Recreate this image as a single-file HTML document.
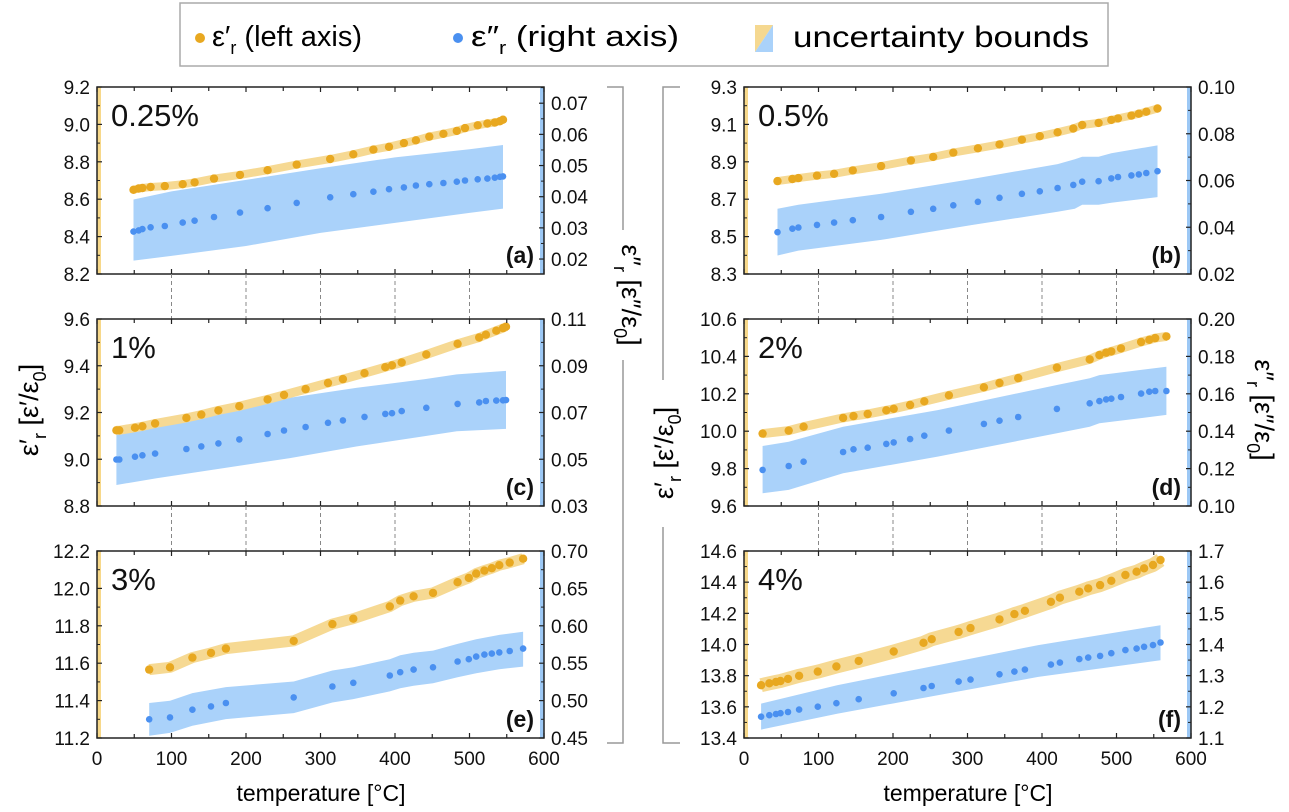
<!DOCTYPE html>
<html><head><meta charset="utf-8">
<style>
html,body{margin:0;padding:0;background:#fff;}
svg{display:block;font-family:"Liberation Sans",sans-serif;}
</style></head>
<body>
<svg id="fig" width="1289" height="812" viewBox="0 0 1289 812" xmlns="http://www.w3.org/2000/svg">
  <g>
    <rect x="180" y="3" width="928" height="63" fill="#fff" stroke="#aaa" stroke-width="1.5"/>
    <circle cx="200" cy="38" r="5" fill="#e8a820"/>
    <text x="212" y="46" font-size="29" textLength="150" lengthAdjust="spacingAndGlyphs">ε′<tspan font-size="18" dy="8">r</tspan><tspan dy="-8"> (left axis)</tspan></text>
    <circle cx="458" cy="38" r="5" fill="#4a90f0"/>
    <text x="471" y="46" font-size="29" textLength="208" lengthAdjust="spacingAndGlyphs">ε″<tspan font-size="18" dy="8">r</tspan><tspan dy="-8"> (right axis)</tspan></text>
    <polygon points="755,25 773,25 755,52" fill="#f5d890"/>
    <polygon points="773,25 773,52 755,52" fill="#aad2fa"/>
    <text x="793" y="47" font-size="30" textLength="296" lengthAdjust="spacingAndGlyphs">uncertainty bounds</text>
  </g>
  <g id="panels"></g>
  <text x="321" y="801" font-size="23" text-anchor="middle">temperature [°C]</text>
  <text x="968" y="801" font-size="23" text-anchor="middle">temperature [°C]</text>
  <text transform="translate(38,410) rotate(-90)" font-size="27" text-anchor="middle">ε′<tspan font-size="18" dy="8">r</tspan><tspan dy="-8"> [ε′/ε</tspan><tspan font-size="18" dy="8">0</tspan><tspan dy="-8">]</tspan></text>
  <text transform="translate(1255,410) rotate(90)" font-size="27" text-anchor="middle">ε″<tspan font-size="18" dy="8">r</tspan><tspan dy="-8"> [ε″/ε</tspan><tspan font-size="18" dy="8">0</tspan><tspan dy="-8">]</tspan></text>
  <g stroke="#999" stroke-width="1.5" fill="none">
    <polyline points="607,87 623,87 623,230"/>
    <polyline points="623,360 623,743 607,743"/>
  </g>
  <text transform="translate(622,295) rotate(90)" font-size="27" text-anchor="middle">ε″<tspan font-size="18" dy="8">r</tspan><tspan dy="-8"> [ε″/ε</tspan><tspan font-size="18" dy="8">0</tspan><tspan dy="-8">]</tspan></text>
  <g stroke="#999" stroke-width="1.5" fill="none">
    <polyline points="680,87 663,87 663,380"/>
    <polyline points="663,527 663,743 680,743"/>
  </g>
  <text transform="translate(673,453) rotate(-90)" font-size="27" text-anchor="middle">ε′<tspan font-size="18" dy="8">r</tspan><tspan dy="-8"> [ε′/ε</tspan><tspan font-size="18" dy="8">0</tspan><tspan dy="-8">]</tspan></text>
</svg>
<script>
// ---- data (a) 0.25% ----
const tempA=[49,56,61,72,91,115,131,157,192,229,268,313,344,371,392,412,428,446,465,483,494,511,524,534,541,545];
const realA=[8.65,8.657,8.66,8.665,8.67,8.68,8.69,8.71,8.73,8.755,8.785,8.815,8.84,8.865,8.88,8.90,8.915,8.935,8.95,8.965,8.98,8.995,9.005,9.01,9.017,9.025];
const imagA=[.0288,.0292,.0296,.0302,.0306,.0317,.0323,.0335,.0349,.0363,.038,.0398,.0408,.0416,.0424,.043,.0436,.044,.0444,.0448,.0452,.0456,.0458,.0461,.0464,.0465];
const bandTempA=[49,100,200,300,400,500,545];
const bandUpA=[.0391,.0417,.0454,.0491,.0526,.0552,.0566];
const bandLoA=[.0195,.0210,.0242,.0284,.0316,.0348,.0362];
// ---- data (b) 0.5% ----
const tempB=[45,65,73,98,121,146,184,224,254,281,314,343,373,397,421,442,454,476,493,502,520,530,540,555];
const realB=[8.797,8.808,8.813,8.826,8.836,8.854,8.877,8.907,8.926,8.949,8.972,8.993,9.018,9.037,9.058,9.078,9.097,9.108,9.124,9.132,9.147,9.157,9.168,9.185];
const imagB=[.0379,.0394,.0399,.041,.042,.043,.0444,.0466,.0479,.0494,.0509,.0526,.0543,.0554,.0568,.0581,.0595,.0597,.0609,.0615,.0622,.0626,.0632,.064];
const bandTempB=[45,73,184,305,421,444,454,476,493,555];
const bandUpB=[.0479,.0496,.0543,.0606,.067,.0691,.0702,.0702,.0717,.075];
const bandLoB=[.0279,.03,.0346,.0409,.0466,.0479,.0496,.0496,.0505,.0529];
// ---- data (c) 1% ----
const tempC=[26,30,51,61,78,120,140,163,191,229,251,280,310,330,359,387,396,409,442,484,513,522,536,545,549];
const realC=[9.124,9.124,9.135,9.141,9.153,9.177,9.191,9.209,9.227,9.256,9.275,9.30,9.326,9.343,9.368,9.394,9.402,9.414,9.448,9.494,9.521,9.533,9.55,9.561,9.567];
const imagC=[.0499,.0499,.0511,.0517,.0524,.0544,.0555,.0568,.0585,.0608,.0623,.0638,.0656,.0666,.0681,.0694,.0697,.0706,.072,.0737,.0743,.0749,.0751,.0752,.0753];
const bandTempC=[26,80,170,259,349,439,483,549];
const bandUpC=[.061,.0656,.0713,.0763,.0806,.0842,.0863,.0878];
const bandLoC=[.039,.0419,.0462,.0505,.0555,.0598,.062,.063];
// ---- data (d) 2% ----
const tempD=[25,60,80,133,147,166,191,201,223,242,275,322,343,368,420,464,477,486,493,506,533,544,552,567];
const realD=[9.987,10.003,10.024,10.071,10.081,10.092,10.112,10.12,10.14,10.16,10.192,10.235,10.258,10.284,10.34,10.384,10.407,10.42,10.427,10.443,10.477,10.489,10.498,10.507];
const imagD=[.1193,.1214,.1237,.1289,.1303,.1312,.1332,.134,.1358,.1376,.1403,.1439,.1456,.1476,.1519,.1549,.1561,.157,.1574,.1583,.1601,.1611,.1615,.1615];
const bandTempD=[25,60,133,260,420,464,477,567];
const bandUpD=[.1321,.1344,.1424,.1513,.1647,.1683,.17,.1745];
const bandLoD=[.1068,.1086,.1175,.1264,.1389,.1424,.1442,.1487];
// ---- data (e) 3% ----
const tempE=[70,98,128,153,173,264,316,344,393,407,425,451,484,499,509,520,530,540,554,572];
const realE=[11.566,11.578,11.63,11.655,11.678,11.719,11.809,11.838,11.903,11.935,11.958,11.976,12.033,12.056,12.079,12.095,12.108,12.124,12.138,12.159];
const imagE=[.475,.4775,.4878,.4923,.4968,.5043,.5188,.5238,.5335,.538,.5415,.5445,.5523,.5553,.5588,.5615,.5628,.5645,.5663,.5695];
const bandTempE=[70,98,128,173,264,316,344,393,407,425,451,484,509,540,572];
const bandUpE=[.4968,.4998,.51,.518,.5255,.5403,.5445,.5553,.5605,.564,.5668,.5758,.582,.5878,.592];
const bandLoE=[.453,.4568,.4665,.4753,.4833,.4975,.502,.5123,.5165,.5198,.5233,.5313,.5365,.542,.5455];
// ---- data (f) 4% ----
const tempF=[23,34,43,49,59,74,99,124,154,201,241,252,288,304,343,363,377,412,424,450,462,478,493,512,527,537,549,559];
const realF=[13.739,13.751,13.76,13.766,13.779,13.799,13.826,13.859,13.895,13.955,14.011,14.034,14.081,14.105,14.161,14.195,14.216,14.274,14.3,14.339,14.36,14.381,14.409,14.446,14.467,14.489,14.51,14.542];
const imagF=[1.1685,1.173,1.177,1.1795,1.1835,1.191,1.2005,1.2115,1.2245,1.2435,1.2605,1.267,1.281,1.2875,1.3045,1.313,1.3195,1.3355,1.342,1.353,1.358,1.3635,1.372,1.382,1.387,1.3925,1.398,1.4065];
const bandTempF=[23,125,260,395,559];
const bandUpF=[1.2105,1.2695,1.3335,1.398,1.462];
const bandLoF=[1.127,1.178,1.237,1.296,1.3495];
// ---- axis tick labels ----
const leftTicksA=["8.2","8.4","8.6","8.8","9.0","9.2"], rightTicksA=["0.02","0.03","0.04","0.05","0.06","0.07"];
const leftTicksB=["8.3","8.5","8.7","8.9","9.1","9.3"], rightTicksB=["0.02","0.04","0.06","0.08","0.10"];
const leftTicksC=["8.8","9.0","9.2","9.4","9.6"], rightTicksC=["0.03","0.05","0.07","0.09","0.11"];
const leftTicksD=["9.6","9.8","10.0","10.2","10.4","10.6"], rightTicksD=["0.10","0.12","0.14","0.16","0.18","0.20"];
const leftTicksE=["11.2","11.4","11.6","11.8","12.0","12.2"], rightTicksE=["0.45","0.50","0.55","0.60","0.65","0.70"];
const leftTicksF=["13.4","13.6","13.8","14.0","14.2","14.4","14.6"], rightTicksF=["1.1","1.2","1.3","1.4","1.5","1.6","1.7"];
const xTicks=["0","100","200","300","400","500","600"];

const NS="http://www.w3.org/2000/svg";
const root=document.getElementById('panels');
function mk(tag,attrs,parent){const e=document.createElementNS(NS,tag);for(const k in attrs)e.setAttribute(k,attrs[k]);(parent||root).appendChild(e);return e;}

const panels=[
 {id:'a',x:97,y:87,lab:'0.25%',lmin:8.2,lmax:9.2,rmin:0.0152,rmax:0.0752,lt:leftTicksA,rt:rightTicksA,t:tempA,re:realA,im:imagA,bt:bandTempA,bu:bandUpA,bl:bandLoA,bw:8,bottom:false},
 {id:'b',x:744,y:87,lab:'0.5%',lmin:8.3,lmax:9.3,rmin:0.02,rmax:0.10,lt:leftTicksB,rt:rightTicksB,t:tempB,re:realB,im:imagB,bt:bandTempB,bu:bandUpB,bl:bandLoB,bw:8,bottom:false},
 {id:'c',x:97,y:319,lab:'1%',lmin:8.8,lmax:9.6,rmin:0.03,rmax:0.11,lt:leftTicksC,rt:rightTicksC,t:tempC,re:realC,im:imagC,bt:bandTempC,bu:bandUpC,bl:bandLoC,bw:9,bottom:false},
 {id:'d',x:744,y:319,lab:'2%',lmin:9.6,lmax:10.6,rmin:0.10,rmax:0.20,lt:leftTicksD,rt:rightTicksD,t:tempD,re:realD,im:imagD,bt:bandTempD,bu:bandUpD,bl:bandLoD,bw:9,bottom:false},
 {id:'e',x:97,y:551,lab:'3%',lmin:11.2,lmax:12.2,rmin:0.45,rmax:0.70,lt:leftTicksE,rt:rightTicksE,t:tempE,re:realE,im:imagE,bt:bandTempE,bu:bandUpE,bl:bandLoE,bw:11,bottom:true},
 {id:'f',x:744,y:551,lab:'4%',lmin:13.4,lmax:14.6,rmin:1.1,rmax:1.7,lt:leftTicksF,rt:rightTicksF,t:tempF,re:realF,im:imagF,bt:bandTempF,bu:bandUpF,bl:bandLoF,bw:14,bottom:true}
];
const W=447,H=187;

panels.forEach(p=>{
  const g=mk('g',{});
  
  
  const xs=v=>p.x+v/600*W;
  const yl=v=>p.y+H-(v-p.lmin)/(p.lmax-p.lmin)*H;
  const yr=v=>p.y+H-(v-p.rmin)/(p.rmax-p.rmin)*H;
  const s1=mk('rect',{x:p.x,y:p.y,width:4,height:H,fill:'#f7d88a'},g);
  
  
  const s2=mk('rect',{x:p.x+W-4,y:p.y,width:4,height:H,fill:'#9cc8f5'},g);
  
  
  let pts=[];
  p.bt.forEach((t,i)=>pts.push(xs(t).toFixed(1)+','+yr(p.bu[i]).toFixed(1)));
  for(let i=p.bt.length-1;i>=0;i--)pts.push(xs(p.bt[i]).toFixed(1)+','+yr(p.bl[i]).toFixed(1));
  const band=mk('polygon',{points:pts.join(' '),fill:'#aad2fa'},g);
  
  
  const yb=mk('polyline',{points:p.t.map((t,i)=>xs(t).toFixed(1)+','+yl(p.re[i]).toFixed(1)).join(' '),fill:'none',stroke:'#f6d993','stroke-width':p.bw,'stroke-linejoin':'round','stroke-linecap':'butt'},g);
  
  
  p.t.forEach((t,i)=>{
    const c=mk('circle',{cx:xs(t).toFixed(1),cy:yl(p.re[i]).toFixed(1),r:4.2,fill:'#e8a820'},g);
    
    
    const d=mk('circle',{cx:xs(t).toFixed(1),cy:yr(p.im[i]).toFixed(1),r:3.3,fill:'#4a90f0'},g);
    
    
  });
  const fr=mk('rect',{x:p.x,y:p.y,width:W,height:H,fill:'none',stroke:'#222','stroke-width':1.5},g);
  
  
  for(let t=0;t<=600;t+=50){
    const L=(t%100===0)?5:4;
    mk('line',{x1:xs(t),x2:xs(t),y1:p.y,y2:p.y+L,stroke:'#222','stroke-width':1.2},g);
    mk('line',{x1:xs(t),x2:xs(t),y1:p.y+H,y2:p.y+H-L,stroke:'#222','stroke-width':1.2},g);
  }
  if(!p.bottom){
    for(let t=100;t<=500;t+=100){
      const dl=mk('line',{x1:xs(t),x2:xs(t),y1:p.y+H,y2:p.y+H+45,stroke:'#888','stroke-width':1,'stroke-dasharray':'4,3'},g);
      
      
    }
  }
  const ln=p.lt.length;
  p.lt.forEach((lbl,i)=>{
    const v=p.lmin+(p.lmax-p.lmin)*i/(ln-1);
    const yy=yl(v);
    mk('line',{x1:p.x,x2:p.x+5,y1:yy,y2:yy,stroke:'#222','stroke-width':1.2},g);
    if(i<ln-1){const ym=yl(v+(p.lmax-p.lmin)/(ln-1)/2);mk('line',{x1:p.x,x2:p.x+3,y1:ym,y2:ym,stroke:'#222','stroke-width':1},g);}
    const tx=mk('text',{x:p.x-7,y:yy+7,'font-size':19,'text-anchor':'end',fill:'#111'},g);
    tx.textContent=lbl;
    
    
  });
  const step=(parseFloat(p.rt[1])-parseFloat(p.rt[0]));
  p.rt.forEach((lbl,i)=>{
    const v=parseFloat(lbl);
    const yy=yr(v);
    mk('line',{x1:p.x+W,x2:p.x+W-5,y1:yy,y2:yy,stroke:'#222','stroke-width':1.2},g);
    const ym=yr(v+step/2);
    if(ym>=p.y)mk('line',{x1:p.x+W,x2:p.x+W-3,y1:ym,y2:ym,stroke:'#222','stroke-width':1},g);
    const tx=mk('text',{x:p.x+W+7,y:yy+7,'font-size':19,fill:'#111'},g);
    tx.textContent=lbl;
    
    
  });
  if(p.bottom){
    xTicks.forEach(lbl=>{
      const tx=mk('text',{x:xs(parseFloat(lbl)),y:p.y+H+27,'font-size':19,'text-anchor':'middle',fill:'#111'},g);
      tx.textContent=lbl;
      
      
    });
  }
  const pl=mk('text',{x:p.x+14,y:p.y+39,'font-size':31,fill:'#111'},g);
  pl.textContent=p.lab;
  
  
  const pid=mk('text',{x:p.x+W-10,y:p.y+H-11,'font-size':23,'font-weight':'bold','text-anchor':'end',fill:'#111'},g);
  pid.textContent='('+p.id+')';
  
  
});
</script>
</body></html>
